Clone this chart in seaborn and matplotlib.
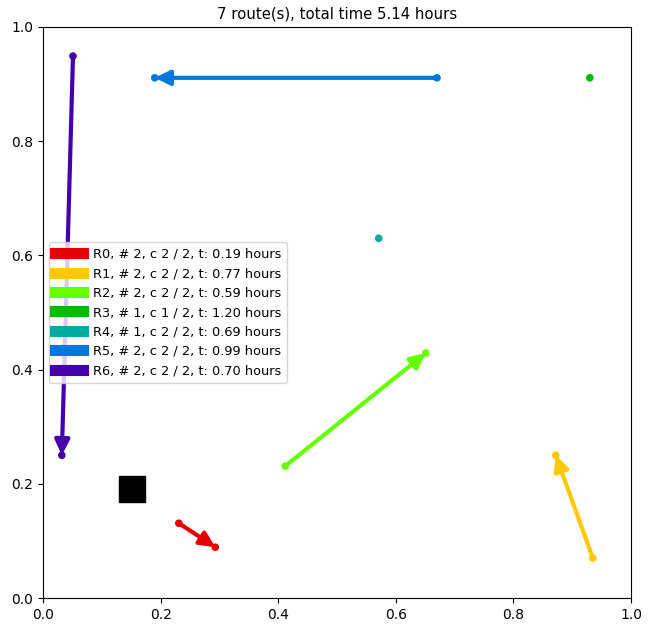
import matplotlib
matplotlib.use("Agg")
import matplotlib.pyplot as plt
import seaborn as sns
import pandas as pd
from matplotlib.lines import Line2D

route_names = ["R0", "R1", "R2", "R3", "R4", "R5", "R6"]
route_colors = ["#e60000", "#ffc800", "#66ff00", "#00bb00", "#00aaa0", "#0077dd", "#4400aa"]
route_x = [[0.231, 0.293], [0.935, 0.872], [0.412, 0.651], [0.930], [0.571], [0.670, 0.190], [0.051, 0.032]]
route_y = [[0.131, 0.089], [0.070, 0.250], [0.231, 0.429], [0.911], [0.630], [0.911, 0.911], [0.949, 0.250]]
route_labels = [
    "R0, # 2, c 2 / 2, t: 0.19 hours",
    "R1, # 2, c 2 / 2, t: 0.77 hours",
    "R2, # 2, c 2 / 2, t: 0.59 hours",
    "R3, # 1, c 1 / 2, t: 1.20 hours",
    "R4, # 1, c 2 / 2, t: 0.69 hours",
    "R5, # 2, c 2 / 2, t: 0.99 hours",
    "R6, # 2, c 2 / 2, t: 0.70 hours",
]
depot_x = [0.151]
depot_y = [0.191]
title = "7 route(s), total time 5.14 hours"

rows = []
for name, xs, ys in zip(route_names, route_x, route_y):
    for x, y in zip(xs, ys):
        rows.append({"route": name, "x": x, "y": y})
df = pd.DataFrame(rows)

fig = plt.figure(figsize=(6.53, 6.29), dpi=100)
ax = fig.add_axes([43 / 653, 31 / 629, 588 / 653, 571 / 629])

palette = dict(zip(route_names, route_colors))
sns.scatterplot(data=df, x="x", y="y", hue="route", palette=palette, s=30,
                edgecolor="none", legend=False, ax=ax, zorder=3)

for name, xs, ys, c in zip(route_names, route_x, route_y, route_colors):
    if len(xs) >= 2:
        for i in range(len(xs) - 1):
            ax.annotate("", xy=(xs[i + 1], ys[i + 1]), xytext=(xs[i], ys[i]),
                        arrowprops=dict(arrowstyle="-|>,head_length=0.45,head_width=0.22",
                                        color=c, lw=3, mutation_scale=20,
                                        shrinkA=0, shrinkB=0),
                        zorder=2)

ax.plot(depot_x, depot_y, marker="s", color="black", markersize=19, linestyle="none", zorder=4)

handles = [Line2D([0], [0], color=c, lw=8) for c in route_colors]
ax.legend(handles, route_labels, loc="center left", fontsize=9.3, handlelength=2.2)

ax.set_xlim(0, 1)
ax.set_ylim(0, 1)
ax.set_xlabel("")
ax.set_ylabel("")
ax.set_title(title, fontsize=10.7)

fig.savefig("out.png", dpi=100)
